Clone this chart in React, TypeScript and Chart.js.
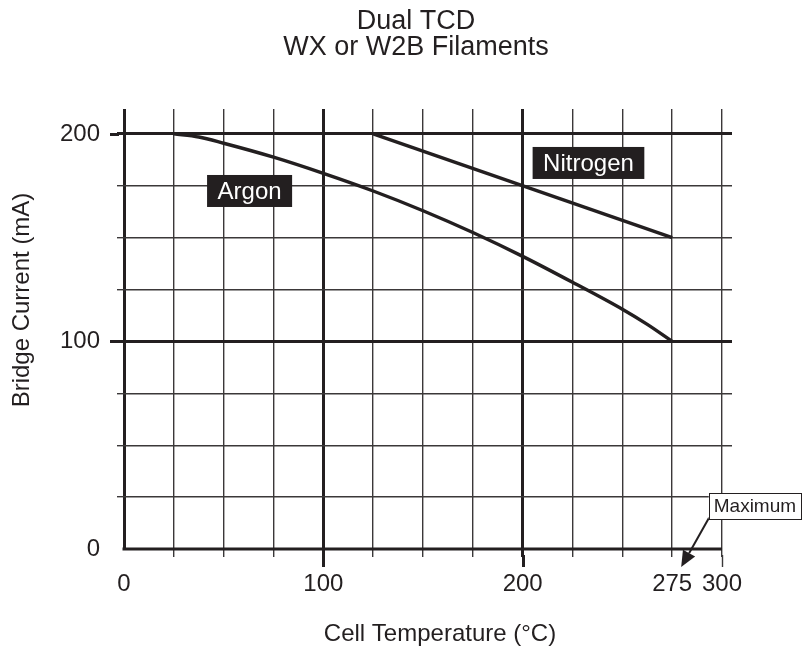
import React, { useEffect, useRef } from "react";
import { Chart, registerables } from "chart.js";

Chart.register(...registerables);

const FONT = '"Liberation Sans", Arial, Helvetica, sans-serif';
const INK = "#231f20";
const MINOR = "#3b3839";

const titleLines = ["Dual TCD", "WX or W2B Filaments"];
const xAxisTitle = "Cell Temperature (°C)";
const yAxisTitle = "Bridge Current (mA)";

const xGridValues = [0, 25, 50, 75, 100, 125, 150, 175, 200, 225, 250, 275, 300];
const xLabelValues = [0, 100, 200, 275, 300];
const xMajorValues = [0, 100, 200];
const xLongTickValues = [100, 200, 300];
const yGridValues = [0, 25, 50, 75, 100, 125, 150, 175, 200];
const yLabelValues = [0, 100, 200];
const yMajorValues = [0, 100, 200];

const argonName = "Argon";
const argonTemp = [25, 37.5, 50, 75, 100, 125, 150, 175, 200, 225, 250, 262.5, 275];
const argonCurrent = [200, 198.5, 195.5, 188.8, 181, 172.5, 163, 152.5, 141, 128.5, 115.5, 108.2, 100];

const nitrogenName = "Nitrogen";
const nitrogenTemp = [125, 275];
const nitrogenCurrent = [200, 150];

const maximumNote = "Maximum";

// annotation anchors (data units)
const labelAnchors = {
  argon: { x: 63, y: 172.5 },
  nitrogen: { x: 233, y: 186 },
  maximum: { x: 316.5, y: 20.7 },
  arrowFrom: { x: 293.5, y: 15 },
  arrowTo: { x: 279.5, y: -8.7 },
};

const decor = {
  id: "decor",
  beforeDatasetsDraw(chart: any) {
    const { ctx, scales } = chart;
    const x = scales.x;
    const y = scales.y;
    ctx.save();
    ctx.strokeStyle = INK;
    const y0 = y.getPixelForValue(0);
    ctx.lineWidth = 3;
    ctx.beginPath();
    ctx.moveTo(x.getPixelForValue(0) - 1.5, y0);
    ctx.lineTo(x.getPixelForValue(300), y0);
    ctx.stroke();
    for (const v of xLongTickValues) {
      const px = Math.round(x.getPixelForValue(v)) + 0.5;
      ctx.lineWidth = xMajorValues.includes(v) ? 3 : 1.4;
      ctx.strokeStyle = xMajorValues.includes(v) ? INK : MINOR;
      ctx.beginPath();
      ctx.moveTo(px, y0 + 6);
      ctx.lineTo(px, y0 + 18);
      ctx.stroke();
    }
    const xl = x.getPixelForValue(0);
    for (const v of [100, 200]) {
      const py = Math.round(y.getPixelForValue(v)) + 0.5;
      ctx.lineWidth = 3;
      ctx.strokeStyle = INK;
      ctx.beginPath();
      ctx.moveTo(xl - 5, py);
      ctx.lineTo(xl - 14, py);
      ctx.stroke();
    }
    ctx.restore();
  },
  afterDatasetsDraw(chart: any) {
    const { ctx, scales } = chart;
    const x = scales.x;
    const y = scales.y;
    const px = (v: number) => x.getPixelForValue(v);
    const py = (v: number) => y.getPixelForValue(v);
    ctx.save();

    const darkLabel = (text: string, a: { x: number; y: number }) => {
      ctx.font = `24px ${FONT}`;
      const w = ctx.measureText(text).width + 21;
      const h = 32;
      const cx = px(a.x);
      const cy = py(a.y);
      ctx.fillStyle = INK;
      ctx.fillRect(cx - w / 2, cy - h / 2, w, h);
      ctx.fillStyle = "#ffffff";
      ctx.textAlign = "center";
      ctx.textBaseline = "middle";
      ctx.fillText(text, cx, cy + 1);
    };
    darkLabel(argonName, labelAnchors.argon);
    darkLabel(nitrogenName, labelAnchors.nitrogen);

    const ax1 = px(labelAnchors.arrowFrom.x);
    const ay1 = py(labelAnchors.arrowFrom.y);
    const ax2 = px(labelAnchors.arrowTo.x);
    const ay2 = py(labelAnchors.arrowTo.y);
    const ang = Math.atan2(ay2 - ay1, ax2 - ax1);
    const hl = 16;
    const hw = 7;
    const bx = ax2 - hl * Math.cos(ang);
    const by = ay2 - hl * Math.sin(ang);
    ctx.strokeStyle = INK;
    ctx.fillStyle = INK;
    ctx.lineWidth = 2;
    ctx.beginPath();
    ctx.moveTo(ax1, ay1);
    ctx.lineTo(bx, by);
    ctx.stroke();
    ctx.beginPath();
    ctx.moveTo(ax2, ay2);
    ctx.lineTo(bx + hw * Math.sin(ang), by - hw * Math.cos(ang));
    ctx.lineTo(bx - hw * Math.sin(ang), by + hw * Math.cos(ang));
    ctx.closePath();
    ctx.fill();

    ctx.font = `19px ${FONT}`;
    const mw = ctx.measureText(maximumNote).width + 10;
    const mh = 26;
    const mx = px(labelAnchors.maximum.x);
    const my = py(labelAnchors.maximum.y);
    ctx.fillStyle = "#ffffff";
    ctx.fillRect(mx - mw / 2, my - mh / 2, mw, mh);
    ctx.lineWidth = 1;
    ctx.strokeStyle = INK;
    ctx.strokeRect(Math.round(mx - mw / 2) + 0.5, Math.round(my - mh / 2) + 0.5, Math.round(mw), mh);
    ctx.fillStyle = INK;
    ctx.textAlign = "center";
    ctx.textBaseline = "middle";
    ctx.fillText(maximumNote, mx, my + 1);

    ctx.font = `24px ${FONT}`;
    ctx.fillStyle = INK;
    ctx.textAlign = "center";
    ctx.textBaseline = "middle";
    ctx.fillText(xAxisTitle, 440, 634);
    ctx.translate(22, 300);
    ctx.rotate(-Math.PI / 2);
    ctx.fillText(yAxisTitle, 0, 0);
    ctx.restore();
  },
};

export default function App() {
  const ref = useRef<HTMLCanvasElement>(null);
  useEffect(() => {
    const canvas = ref.current!;
    const tickFont = { family: FONT, size: 24 };
    const isVal = (ctx: any, list: number[]) => !!ctx.tick && list.includes(ctx.tick.value);
    const chart = new Chart(canvas, {
      type: "line",
      data: {
        datasets: [
          {
            label: argonName,
            data: argonTemp.map((t, i) => ({ x: t, y: argonCurrent[i] })),
            borderColor: INK,
            borderWidth: 3.4,
            pointRadius: 0,
            fill: false,
            cubicInterpolationMode: "monotone",
            yAxisID: "y",
          },
          {
            label: nitrogenName,
            data: nitrogenTemp.map((t, i) => ({ x: t, y: nitrogenCurrent[i] })),
            borderColor: INK,
            borderWidth: 3.4,
            pointRadius: 0,
            fill: false,
            tension: 0,
            yAxisID: "y",
          },
        ],
      },
      options: {
        responsive: false,
        animation: false,
        devicePixelRatio: 1,
        layout: { padding: { left: 23, right: 0, top: 0, bottom: 0 } },
        plugins: {
          legend: { display: false },
          tooltip: { enabled: false },
          title: {
            display: true,
            text: titleLines,
            color: INK,
            font: { family: FONT, size: 27, weight: "normal", lineHeight: 26 / 27 },
            padding: { top: 9, bottom: 48 },
          },
        },
        scales: {
          x: {
            type: "linear",
            min: 0,
            max: 305,
            afterBuildTicks: (s: any) => {
              s.ticks = xGridValues.map((v) => ({ value: v }));
            },
            afterFit: (s: any) => {
              s.height = 101;
            },
            ticks: {
              autoSkip: false,
              maxRotation: 0,
              padding: 13,
              color: INK,
              font: tickFont,
              callback: (v: any) => (xLabelValues.includes(Number(v)) ? String(v) : ""),
            },
            grid: {
              color: (ctx: any) => (isVal(ctx, xMajorValues) ? INK : MINOR),
              lineWidth: (ctx: any) => (isVal(ctx, xMajorValues) ? 3 : 1.4),
              tickLength: 8,
              tickColor: (ctx: any) =>
                ctx.tick && ctx.tick.value === 0 ? "rgba(0,0,0,0)" : isVal(ctx, xMajorValues) ? INK : MINOR,
            },
            border: { display: false },
          },
          y: {
            type: "linear",
            position: "left",
            min: 0,
            max: 212,
            afterBuildTicks: (s: any) => {
              s.ticks = yGridValues.map((v) => ({ value: v }));
            },
            afterFit: (s: any) => {
              s.width = 101;
            },
            ticks: {
              autoSkip: false,
              padding: 17,
              color: INK,
              font: tickFont,
              callback: (v: any) => (yLabelValues.includes(Number(v)) ? String(v) : ""),
            },
            grid: {
              color: (ctx: any) =>
                ctx.tick && ctx.tick.value === 0 ? "rgba(0,0,0,0)" : isVal(ctx, yMajorValues) ? INK : MINOR,
              lineWidth: (ctx: any) => (isVal(ctx, yMajorValues) ? 3 : 1.4),
              tickLength: 7,
            },
            border: { display: false },
          },
          yRight: {
            type: "linear",
            position: "right",
            display: true,
            grid: { display: false, drawTicks: false },
            ticks: { display: false },
            border: { display: false },
            afterFit: (s: any) => {
              s.width = 77;
            },
          },
        },
      },
      plugins: [decor],
    } as any);
    return () => chart.destroy();
  }, []);
  return (
    <div style={{ position: "fixed", left: 0, top: 0, width: 809, height: 650, background: "#ffffff" }}>
      <canvas ref={ref} width={809} height={650} style={{ display: "block", width: 809, height: 650 }} />
    </div>
  );
}
